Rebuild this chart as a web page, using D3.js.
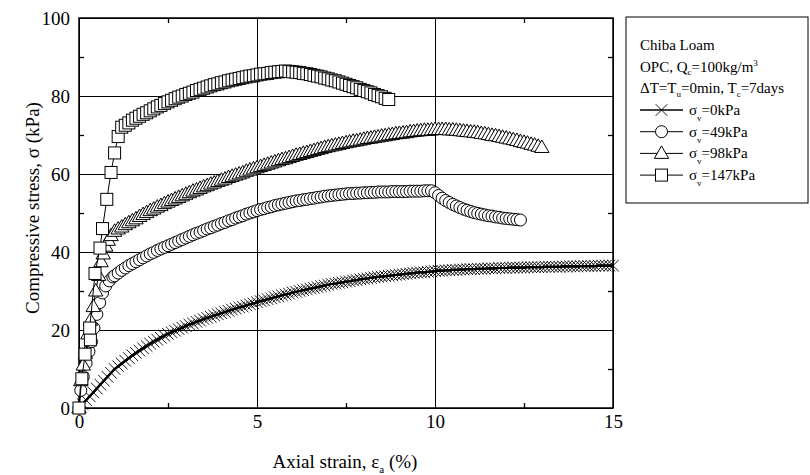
<!DOCTYPE html>
<html>
<head>
<meta charset="utf-8">
<style>
  body { margin: 0; background: #fff; }
  text { font-family: "Liberation Serif", "Times New Roman", serif; fill: #000; }
</style>
</head>
<body>
<svg width="810" height="475"></svg>
<script src="https://d3js.org/d3.v7.min.js"></script>
<script>

// tick values
var xTicks = [0, 5, 10, 15],
    xMinor = [2.5, 7.5, 12.5],
    yTicks = [0, 20, 40, 60, 80, 100],
    yMinor = [10, 30, 50, 70, 90];

// [axial strain %, compressive stress kPa]
var sv0 = [[0,0],[0.1,1.0],[0.2,2.0],[0.3,3.0],[0.4,4.0],[0.5,5.0],[0.6,6.0],[0.7,7.0],[0.8,8.0],[0.9,9.0],[1.0,10.0],
  [1.1,10.7],[1.2,11.4],[1.3,12.1],[1.4,12.8],[1.5,13.5],[1.6,14.1],[1.7,14.7],[1.8,15.3],[1.9,15.9],[2.0,16.5],
  [2.1,17.0],[2.2,17.5],[2.3,18.0],[2.4,18.5],[2.5,19.0],[2.6,19.4],[2.7,19.8],[2.8,20.2],[2.9,20.6],[3.0,21.0],
  [3.1,21.4],[3.2,21.7],[3.3,22.1],[3.4,22.4],[3.5,22.8],[3.6,23.1],[3.7,23.4],[3.8,23.7],[3.9,24.0],[4.0,24.3],
  [4.1,24.6],[4.2,24.9],[4.3,25.2],[4.4,25.5],[4.5,25.8],[4.6,26.0],[4.7,26.3],[4.8,26.6],[4.9,26.8],[5.0,27.1],
  [5.1,27.4],[5.2,27.6],[5.3,27.9],[5.4,28.1],[5.5,28.4],[5.6,28.6],[5.7,28.9],[5.8,29.1],[5.9,29.3],[6.0,29.6],
  [6.1,29.8],[6.2,30.0],[6.3,30.2],[6.4,30.4],[6.5,30.6],[6.6,30.8],[6.7,31.0],[6.8,31.2],[6.9,31.4],[7.0,31.6],
  [7.1,31.8],[7.2,31.9],[7.3,32.1],[7.4,32.2],[7.5,32.4],[7.6,32.5],[7.7,32.7],[7.8,32.8],[7.9,33.0],[8.0,33.1],
  [8.1,33.2],[8.2,33.4],[8.3,33.5],[8.4,33.6],[8.5,33.7],[8.6,33.8],[8.7,33.9],[8.8,34.0],[8.9,34.1],[9.0,34.2],
  [9.1,34.3],[9.2,34.4],[9.3,34.5],[9.4,34.6],[9.5,34.7],[9.6,34.8],[9.7,34.8],[9.8,34.9],[9.9,35.0],[10.0,35.1],
  [10.1,35.2],[10.2,35.2],[10.3,35.3],[10.4,35.3],[10.5,35.4],[10.6,35.4],[10.7,35.5],[10.8,35.5],[10.9,35.6],[11.0,35.6],
  [11.1,35.6],[11.2,35.7],[11.3,35.7],[11.4,35.7],[11.5,35.8],[11.6,35.8],[11.7,35.8],[11.8,35.9],[11.9,35.9],[12.0,35.9],
  [12.1,36.0],[12.2,36.0],[12.3,36.0],[12.4,36.0],[12.5,36.0],[12.6,36.1],[12.7,36.1],[12.8,36.1],[12.9,36.1],[13.0,36.1],
  [13.1,36.2],[13.2,36.2],[13.3,36.2],[13.4,36.2],[13.5,36.2],[13.6,36.3],[13.7,36.3],[13.8,36.3],[13.9,36.3],[14.0,36.3],
  [14.1,36.4],[14.2,36.4],[14.3,36.4],[14.4,36.4],[14.5,36.4],[14.6,36.5],[14.7,36.5],[14.8,36.5],[14.9,36.5],[15.0,36.5]];

var sv49 = [[0,0],[0.05,4.5],[0.12,8.0],[0.2,11.5],[0.28,14.5],[0.35,17.0],[0.42,20.5],[0.5,24.0],[0.58,27.0],
  [0.66,29.5],[0.75,31.3],[0.85,32.6],[0.95,33.6],[1.0,33.9],
  [1.1,34.6],[1.2,35.3],[1.3,35.9],[1.4,36.5],[1.5,37.0],[1.6,37.5],[1.7,38.0],[1.8,38.5],[1.9,39.0],[2.0,39.5],
  [2.1,39.9],[2.2,40.4],[2.3,40.8],[2.4,41.2],[2.5,41.6],[2.6,42.0],[2.7,42.4],[2.8,42.8],[2.9,43.2],[3.0,43.6],
  [3.1,44.0],[3.2,44.4],[3.3,44.8],[3.4,45.1],[3.5,45.5],[3.6,45.9],[3.7,46.2],[3.8,46.6],[3.9,46.9],[4.0,47.3],
  [4.1,47.6],[4.2,48.0],[4.3,48.3],[4.4,48.7],[4.5,49.0],[4.6,49.3],[4.7,49.7],[4.8,50.0],[4.9,50.3],[5.0,50.6],
  [5.1,50.9],[5.2,51.1],[5.3,51.4],[5.4,51.6],[5.5,51.9],[5.6,52.1],[5.7,52.3],[5.8,52.5],[5.9,52.7],[6.0,52.9],
  [6.1,53.1],[6.2,53.2],[6.3,53.4],[6.4,53.5],[6.5,53.7],[6.6,53.8],[6.7,54.0],[6.8,54.1],[6.9,54.3],[7.0,54.4],
  [7.1,54.5],[7.2,54.6],[7.3,54.7],[7.4,54.8],[7.5,54.9],[7.6,55.0],[7.7,55.0],[7.8,55.1],[7.9,55.1],[8.0,55.2],
  [8.1,55.2],[8.2,55.3],[8.3,55.3],[8.4,55.4],[8.5,55.4],[8.6,55.4],[8.7,55.4],[8.8,55.5],[8.9,55.5],[9.0,55.5],
  [9.1,55.5],[9.2,55.5],[9.3,55.6],[9.4,55.6],[9.5,55.6],[9.6,55.6],[9.7,55.7],[9.8,55.7],[9.9,55.7],
  [10.0,55.2],[10.1,54.5],[10.2,53.8],[10.3,53.2],[10.4,52.7],[10.5,52.2],[10.6,51.8],[10.7,51.4],[10.8,51.0],[10.9,50.7],
  [11.0,50.4],[11.1,50.1],[11.2,49.9],[11.3,49.7],[11.4,49.5],[11.5,49.3],[11.6,49.2],[11.7,49.0],[11.8,48.9],[11.9,48.7],
  [12.0,48.6],[12.1,48.5],[12.2,48.4],[12.3,48.3],[12.4,48.2]];

var sv98 = [[0,0],[0.05,7.0],[0.12,11.0],[0.18,14.0],[0.25,19.0],[0.32,22.5],[0.4,26.0],[0.47,30.0],[0.55,34.0],
  [0.62,37.5],[0.68,39.5],[0.75,41.5],[0.82,43.0],[0.9,44.2],[1.0,45.3],
  [1.1,45.9],[1.2,46.4],[1.3,47.0],[1.4,47.5],[1.5,48.0],[1.6,48.5],[1.7,49.1],[1.8,49.6],[1.9,50.1],[2.0,50.6],
  [2.1,51.0],[2.2,51.5],[2.3,51.9],[2.4,52.4],[2.5,52.8],[2.6,53.2],[2.7,53.6],[2.8,54.0],[2.9,54.4],[3.0,54.8],
  [3.1,55.2],[3.2,55.6],[3.3,55.9],[3.4,56.3],[3.5,56.7],[3.6,57.0],[3.7,57.4],[3.8,57.7],[3.9,58.1],[4.0,58.4],
  [4.1,58.7],[4.2,59.1],[4.3,59.4],[4.4,59.7],[4.5,60.0],[4.6,60.3],[4.7,60.7],[4.8,61.0],[4.9,61.3],[5.0,61.6],
  [5.1,61.9],[5.2,62.2],[5.3,62.5],[5.4,62.8],[5.5,63.1],[5.6,63.4],[5.7,63.7],[5.8,63.9],[5.9,64.2],[6.0,64.5],
  [6.1,64.8],[6.2,65.0],[6.3,65.3],[6.4,65.5],[6.5,65.8],[6.6,66.0],[6.7,66.3],[6.8,66.5],[6.9,66.8],[7.0,67.0],
  [7.1,67.2],[7.2,67.4],[7.3,67.6],[7.4,67.8],[7.5,68.0],[7.6,68.2],[7.7,68.4],[7.8,68.5],[7.9,68.7],[8.0,68.9],
  [8.1,69.1],[8.2,69.2],[8.3,69.4],[8.4,69.5],[8.5,69.7],[8.6,69.8],[8.7,70.0],[8.8,70.1],[8.9,70.3],[9.0,70.4],
  [9.1,70.5],[9.2,70.6],[9.3,70.8],[9.4,70.9],[9.5,71.0],[9.6,71.1],[9.7,71.2],[9.8,71.2],[9.9,71.3],[10.0,71.4],
  [10.1,71.4],[10.2,71.4],[10.3,71.4],[10.4,71.3],[10.5,71.3],[10.6,71.2],[10.7,71.1],[10.8,71.0],[10.9,70.9],[11.0,70.8],
  [11.1,70.7],[11.2,70.6],[11.3,70.4],[11.4,70.3],[11.5,70.1],[11.6,69.9],[11.7,69.8],[11.8,69.6],[11.9,69.4],[12.0,69.2],
  [12.1,69.0],[12.2,68.8],[12.3,68.6],[12.4,68.3],[12.5,68.1],[12.6,67.9],[12.7,67.6],[12.8,67.4],[12.9,67.1],[13.0,66.8]];

var sv147 = [[0,0],[0.08,7.5],[0.17,13.8],[0.32,17.5],[0.3,20.5],[0.45,34.5],[0.59,41.0],[0.66,46.0],[0.78,53.5],
  [0.9,60.4],[1.0,65.4],[1.1,69.6],[1.2,72.0],
  [1.3,72.5],[1.4,73.1],[1.5,73.8],[1.6,74.3],[1.7,74.8],[1.8,75.3],[1.9,75.7],[2.0,76.2],
  [2.1,76.7],[2.2,77.2],[2.3,77.6],[2.4,78.1],[2.5,78.5],[2.6,78.9],[2.7,79.3],[2.8,79.7],[2.9,80.0],[3.0,80.4],
  [3.1,80.7],[3.2,81.0],[3.3,81.4],[3.4,81.7],[3.5,82.0],[3.6,82.3],[3.7,82.6],[3.8,82.9],[3.9,83.1],[4.0,83.4],
  [4.1,83.6],[4.2,83.9],[4.3,84.1],[4.4,84.3],[4.5,84.5],[4.6,84.7],[4.7,84.9],[4.8,85.1],[4.9,85.2],[5.0,85.4],
  [5.1,85.6],[5.2,85.7],[5.3,85.8],[5.4,86.0],[5.5,86.1],[5.6,86.2],[5.7,86.3],[5.8,86.4],[5.9,86.3],[6.0,86.2],
  [6.1,86.1],[6.2,86.0],[6.3,85.8],[6.4,85.7],[6.5,85.5],[6.6,85.3],[6.7,85.1],[6.8,84.9],[6.9,84.6],[7.0,84.4],
  [7.1,84.1],[7.2,83.9],[7.3,83.6],[7.4,83.3],[7.5,83.0],[7.6,82.7],[7.7,82.4],[7.8,82.1],[7.9,81.7],[8.0,81.4],
  [8.1,81.1],[8.2,80.8],[8.3,80.4],[8.4,80.1],[8.5,79.8],[8.6,79.4],[8.7,79.1]];

var series = [
  {label: "=0kPa",   marker: "cross",    data: sv0,   lw: 2.2},
  {label: "=49kPa",  marker: "circle",   data: sv49,  lw: 1},
  {label: "=98kPa",  marker: "triangle", data: sv98,  lw: 1},
  {label: "=147kPa", marker: "square",   data: sv147, lw: 1}
];

var svg = d3.select("svg");
var x = d3.scaleLinear().domain([0, 15]).range([79, 613]),
    y = d3.scaleLinear().domain([0, 100]).range([408, 18]);

// grid + labels
var gy = svg.append("g").attr("transform", "translate(79,0)")
    .call(d3.axisLeft(y).tickValues(yTicks).tickSize(-534).tickPadding(9));
var gx = svg.append("g").attr("transform", "translate(0,408)")
    .call(d3.axisBottom(x).tickValues(xTicks).tickSize(-390).tickPadding(7));
[gy, gx].forEach(function(g) {
  g.select(".domain").remove();
  g.selectAll("line").attr("stroke", "#000").attr("stroke-width", 1);
  g.selectAll("text").style("font-family", "Liberation Serif").attr("font-size", 19).attr("fill", "#000");
});

// minor ticks, inward on all four sides
function minor(axis, tr) {
  var g = svg.append("g").attr("transform", tr).call(axis.tickSize(-5).tickFormat(""));
  g.select(".domain").remove();
  g.selectAll("line").attr("stroke", "#000").attr("stroke-width", 1.3);
}
minor(d3.axisLeft(y).tickValues(yMinor), "translate(79,0)");
minor(d3.axisRight(y).tickValues(yMinor), "translate(613,0)");
minor(d3.axisBottom(x).tickValues(xMinor), "translate(0,408)");
minor(d3.axisTop(x).tickValues(xMinor), "translate(0,18)");

svg.append("rect").attr("x", 79).attr("y", 18).attr("width", 534).attr("height", 390)
    .attr("fill", "none").attr("stroke", "#000").attr("stroke-width", 1.5);

// markers
function drawMarker(g, type, px, py) {
  if (type === "cross") {
    g.append("path").attr("d", "M" + (px - 5.8) + "," + (py - 5.8) + "L" + (px + 5.8) + "," + (py + 5.8) +
        "M" + (px - 5.8) + "," + (py + 5.8) + "L" + (px + 5.8) + "," + (py - 5.8))
      .attr("stroke", "#000").attr("stroke-width", 0.9).attr("fill", "none");
  } else if (type === "circle") {
    g.append("circle").attr("cx", px).attr("cy", py).attr("r", 6)
      .attr("fill", "#fff").attr("stroke", "#000").attr("stroke-width", 1);
  } else if (type === "triangle") {
    g.append("path").attr("d", "M" + px + "," + (py - 7.5) + "L" + (px + 7.2) + "," + (py + 5) + "L" + (px - 7.2) + "," + (py + 5) + "Z")
      .attr("fill", "#fff").attr("stroke", "#000").attr("stroke-width", 1);
  } else {
    g.append("rect").attr("x", px - 6).attr("y", py - 6).attr("width", 12).attr("height", 12)
      .attr("fill", "#fff").attr("stroke", "#000").attr("stroke-width", 1);
  }
}

var line = d3.line().x(function(d) { return x(d[0]); }).y(function(d) { return y(d[1]); });

series.forEach(function(s) {
  var g = svg.append("g");
  g.append("path").datum(s.data).attr("d", line)
    .attr("fill", "none").attr("stroke", "#000").attr("stroke-width", s.lw);
  s.data.forEach(function(d) { drawMarker(g, s.marker, x(d[0]), y(d[1])); });
  if (s.marker === "cross") {
    g.append("path").datum(s.data).attr("d", line)
      .attr("fill", "none").attr("stroke", "#000").attr("stroke-width", s.lw);
  }
});

// axis titles
svg.append("text").attr("x", 345).attr("y", 468).attr("text-anchor", "middle").attr("font-size", 19)
  .call(function(t) {
    t.append("tspan").text("Axial strain, ε");
    t.append("tspan").attr("font-size", 11).attr("dy", 5).text("a");
    t.append("tspan").attr("dy", -5).text(" (%)");
  });
svg.append("text").attr("transform", "translate(39,208) rotate(-90)").attr("text-anchor", "middle")
  .attr("font-size", 19).text("Compressive stress, σ (kPa)");

// legend
var lg = svg.append("g");
lg.append("rect").attr("x", 626).attr("y", 17).attr("width", 182).attr("height", 186)
  .attr("fill", "#fff").attr("stroke", "#000").attr("stroke-width", 1);
lg.append("text").attr("x", 640).attr("y", 50).attr("font-size", 15).text("Chiba Loam");
lg.append("text").attr("x", 640).attr("y", 72).attr("font-size", 15).call(function(t) {
  t.append("tspan").text("OPC, Q");
  t.append("tspan").attr("font-size", 9).attr("dy", 3).text("c");
  t.append("tspan").attr("dy", -3).text("=100kg/m");
  t.append("tspan").attr("font-size", 9).attr("dy", -6).text("3");
});
lg.append("text").attr("x", 640).attr("y", 93).attr("font-size", 15).call(function(t) {
  t.append("tspan").text("ΔT=T");
  t.append("tspan").attr("font-size", 9).attr("dy", 4).text("u");
  t.append("tspan").attr("dy", -4).text("=0min, T");
  t.append("tspan").attr("font-size", 9).attr("dy", 4).text("c");
  t.append("tspan").attr("dy", -4).text("=7days");
});
series.forEach(function(s, i) {
  var ry = 110 + i * 21.7;
  lg.append("line").attr("x1", 640).attr("x2", 683).attr("y1", ry).attr("y2", ry)
    .attr("stroke", "#000").attr("stroke-width", s.marker === "cross" ? 1.5 : 1);
  drawMarker(lg, s.marker, 661.5, ry);
  lg.append("text").attr("x", 689).attr("y", ry + 5).attr("font-size", 15).call(function(t) {
    t.append("tspan").text("σ");
    t.append("tspan").attr("font-size", 9).attr("dy", 6).text("v");
    t.append("tspan").attr("dy", -6).text(s.label);
  });
});

</script>
</body>
</html>
